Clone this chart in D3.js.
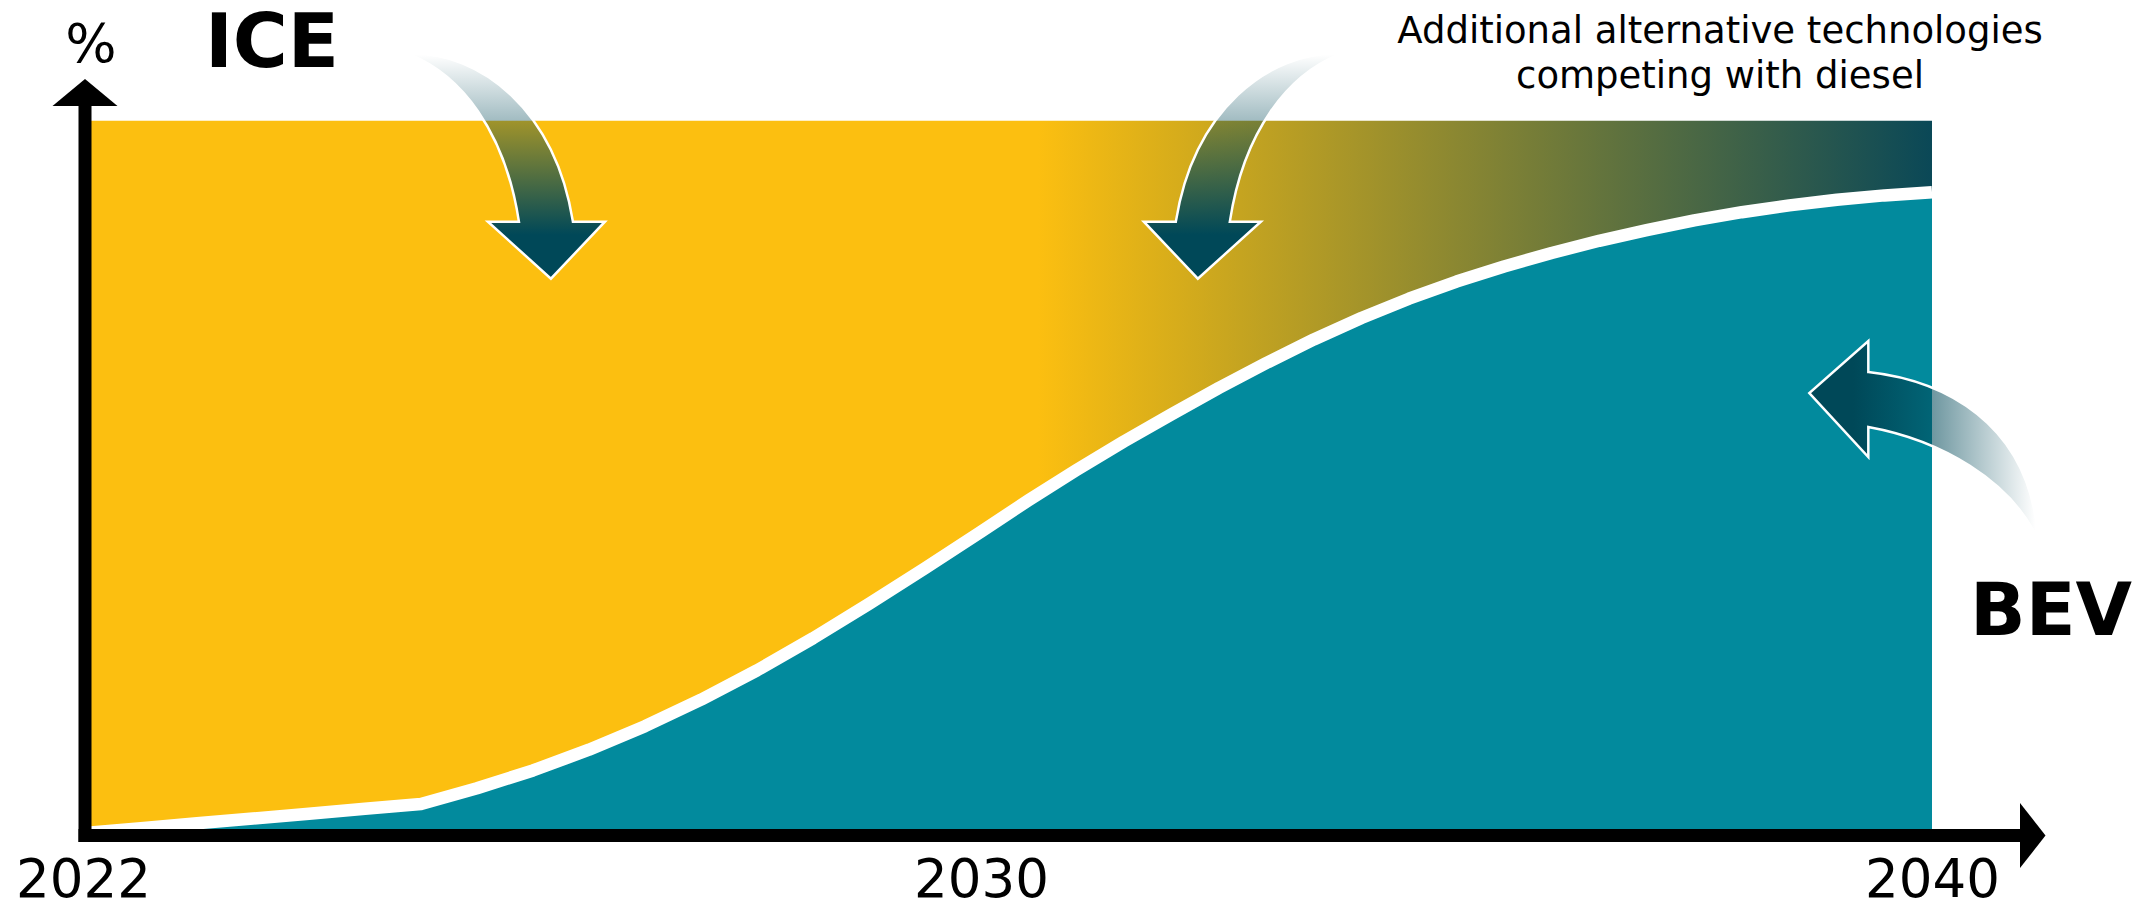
<!DOCTYPE html>
<html>
<head>
<meta charset="utf-8">
<script src="https://cdn.jsdelivr.net/npm/d3@7"></script>
<style>
  html, body { margin: 0; padding: 0; background: #ffffff; }
  svg { display: block; }
  text { font-family: "DejaVu Sans", Verdana, sans-serif; fill: #000; }
</style>
</head>
<body>
<script>
// ---- data -------------------------------------------------------------
// Half-yearly points, share of new registrations in %
const years = [
  2022, 2022.5, 2023, 2023.5, 2024, 2024.5, 2025, 2025.5, 2026, 2026.5,
  2027, 2027.5, 2028, 2028.5, 2029, 2029.5, 2030, 2030.5, 2031, 2031.5,
  2032, 2032.5, 2033, 2033.5, 2034, 2034.5, 2035, 2035.5, 2036, 2036.5,
  2037, 2037.5, 2038, 2038.5, 2039, 2039.5, 2040
];
const bevShare = [
  0.35, 1.03, 1.7, 2.38, 3.05, 3.73, 4.4, 6.6, 9.1, 12.0,
  15.3, 19.0, 23.1, 27.6, 32.4, 37.4, 42.5, 46.9, 51.1, 55.1,
  58.9, 62.6, 66.1, 69.4, 72.4, 75.1, 77.5, 79.6, 81.5, 83.2,
  84.7, 86.05, 87.2, 88.15, 88.95, 89.55, 90.0
];
const seriesKeys = ["bev", "ice"];
const seriesNames = { bev: "BEV", ice: "ICE" };
const tickYears = [2022, 2030, 2040];
const tickLabels = ["2022", "2030", "2040"];
const axisUnit = "%";
const noteLines = ["Additional alternative technologies", "competing with diesel"];
// year from which the ICE band starts fading into other drivetrains
const fadeStartYear = 2030.6;

// ---- layout -----------------------------------------------------------
const W = 2149, H = 904;
const COL = {
  ice: "#fcbf10",
  other: "#0a4857",
  bev: "#028a9d",
  arrow: "#004858",
  axis: "#000000"
};

const x = d3.scaleLinear().domain([2022, 2030, 2040]).range([85, 981, 1932]);
const y = d3.scaleLinear().domain([0, 100]).range([835.5, 120.7]);

const svg = d3.select("body").append("svg")
  .attr("width", W).attr("height", H)
  .attr("viewBox", `0 0 ${W} ${H}`);

const defs = svg.append("defs");

const iceGrad = defs.append("linearGradient")
  .attr("id", "iceFill")
  .attr("gradientUnits", "userSpaceOnUse")
  .attr("x1", x(fadeStartYear)).attr("x2", x(2040))
  .attr("y1", 0).attr("y2", 0);
iceGrad.append("stop").attr("offset", 0).attr("stop-color", COL.ice);
iceGrad.append("stop").attr("offset", 1).attr("stop-color", COL.other);

// arrows dropping in from above fade out towards their tail
const fadeDown = defs.append("linearGradient")
  .attr("id", "fadeDown")
  .attr("gradientUnits", "userSpaceOnUse")
  .attr("x1", 0).attr("x2", 0).attr("y1", -224).attr("y2", -44);
fadeDown.append("stop").attr("offset", 0).attr("stop-color", COL.arrow).attr("stop-opacity", 0);
fadeDown.append("stop").attr("offset", 1).attr("stop-color", COL.arrow).attr("stop-opacity", 1);

// arrow entering from the right fades towards its tail
const fadeSide = defs.append("linearGradient")
  .attr("id", "fadeSide")
  .attr("gradientUnits", "userSpaceOnUse")
  .attr("x1", 44).attr("x2", 226).attr("y1", 0).attr("y2", 0);
fadeSide.append("stop").attr("offset", 0).attr("stop-color", COL.arrow).attr("stop-opacity", 1);
fadeSide.append("stop").attr("offset", 1).attr("stop-color", COL.arrow).attr("stop-opacity", 0);

// ---- stacked areas ----------------------------------------------------
const rows = years.map((yr, i) => ({ year: yr, bev: bevShare[i], ice: 100 - bevShare[i] }));
const stacked = d3.stack().keys(seriesKeys)(rows);

const area = d3.area()
  .x(d => x(d.data.year))
  .y0(d => y(d[0]))
  .y1(d => y(d[1]))
  .curve(d3.curveLinear);

const plot = svg.append("g").attr("class", "plot");

plot.selectAll("path.band")
  .data(stacked)
  .join("path")
  .attr("class", d => "band " + d.key)
  .attr("d", area)
  .attr("fill", d => d.key === "bev" ? COL.bev : "url(#iceFill)");

// white separator along the BEV boundary
const boundary = d3.line()
  .x(d => x(d.data.year))
  .y(d => y(d[1]))
  .curve(d3.curveLinear);

plot.append("path")
  .attr("d", boundary(stacked[0]))
  .attr("fill", "none")
  .attr("stroke", "#ffffff")
  .attr("stroke-width", 12.5)
  .attr("stroke-linecap", "butt")
  .attr("stroke-linejoin", "round");

// ---- annotation arrows ------------------------------------------------
// outline relative to the arrow tip
const dropArrow =
  "M-141,-225 C-71,-227 4,-169 22,-57 L54,-57 L0,0 L-63,-57 L-32,-57 " +
  "C-46,-149 -91,-204 -141,-224 Z";
const sideArrow =
  "M229,147 C221,27 131,-13 59,-21 L59,-52 L0,0 L59,64 L59,34 " +
  "C131,47 201,87 229,147 Z";

const arrows = [
  { year: 2026.16, share: 77.9, path: dropArrow, mirror: false, fill: "url(#fadeDown)" },
  { year: 2032.28, share: 77.9, path: dropArrow, mirror: true,  fill: "url(#fadeDown)" },
  { year: 2038.71, share: 61.9, path: sideArrow, mirror: false, fill: "url(#fadeSide)" }
];

svg.append("g").attr("class", "arrows")
  .selectAll("path")
  .data(arrows)
  .join("path")
  .attr("d", d => d.path)
  .attr("transform", d => `translate(${x(d.year)},${y(d.share)})` + (d.mirror ? " scale(-1,1)" : ""))
  .attr("fill", d => d.fill)
  .attr("stroke", "#ffffff")
  .attr("stroke-width", 2.5)
  .attr("stroke-linejoin", "miter");

// ---- axes -------------------------------------------------------------
const axisG = svg.append("g").attr("class", "axes");
const x0 = 78.5, yBase = y(0);

// vertical axis with arrow head
axisG.append("line")
  .attr("x1", x(2022)).attr("x2", x(2022))
  .attr("y1", 842).attr("y2", 105)
  .attr("stroke", COL.axis).attr("stroke-width", 13);
axisG.append("path")
  .attr("d", `M${x(2022) - 32.5},106 L${x(2022)},79 L${x(2022) + 32.5},106 Z`)
  .attr("fill", COL.axis);

// horizontal axis with arrow head
const xEnd = 2021;
axisG.append("line")
  .attr("x1", x0).attr("x2", xEnd)
  .attr("y1", yBase).attr("y2", yBase)
  .attr("stroke", COL.axis).attr("stroke-width", 13);
axisG.append("path")
  .attr("d", `M2020,${yBase - 32.5} L2045.5,${yBase} L2020,${yBase + 32.5} Z`)
  .attr("fill", COL.axis);

// year ticks
const xAxis = d3.axisBottom(x)
  .tickValues(tickYears)
  .tickSize(0)
  .tickFormat((d, i) => tickLabels[i]);

const tickG = svg.append("g")
  .attr("class", "x-ticks")
  .attr("transform", "translate(0,897)")
  .call(xAxis);
tickG.select(".domain").remove();
tickG.selectAll("text")
  .attr("y", 0).attr("dy", 0)
  .attr("fill", "#000")
  .style("font-family", "'DejaVu Sans', Verdana, sans-serif")
  .style("font-size", "53px");
tickG.selectAll(".tick").filter(d => d === 2022)
  .select("text").attr("x", -2);

// ---- labels -----------------------------------------------------------
svg.append("text")
  .attr("x", 91).attr("y", 62)
  .attr("text-anchor", "middle")
  .style("font-size", "54px")
  .text(axisUnit);

svg.append("text")
  .attr("x", 272).attr("y", 67)
  .attr("text-anchor", "middle")
  .style("font-size", "75px")
  .style("font-weight", "bold")
  .text(seriesNames.ice);

svg.append("text")
  .attr("x", 2051).attr("y", 635)
  .attr("text-anchor", "middle")
  .style("font-size", "73px")
  .style("font-weight", "bold")
  .text(seriesNames.bev);

svg.append("text")
  .attr("text-anchor", "middle")
  .style("font-size", "37px")
  .selectAll("tspan")
  .data(noteLines)
  .join("tspan")
  .attr("x", 1720)
  .attr("y", (d, i) => 42.5 + i * 45)
  .text(d => d);
</script>
</body>
</html>
